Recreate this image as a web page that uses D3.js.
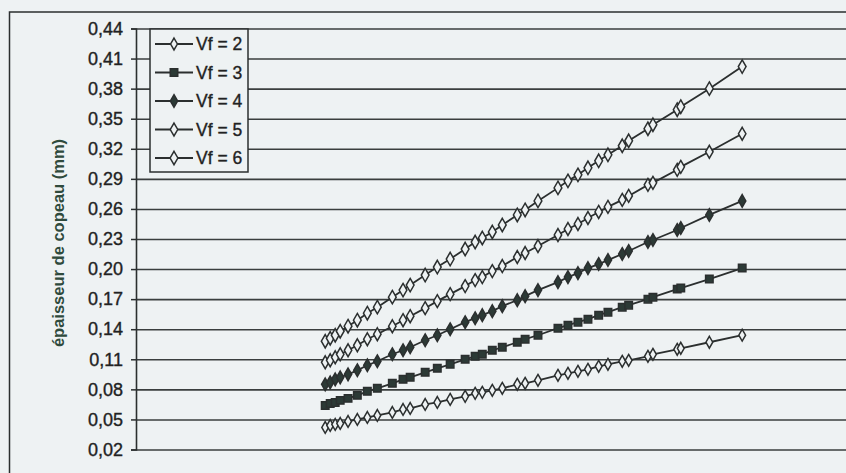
<!DOCTYPE html>
<html><head><meta charset="utf-8">
<script src="https://cdn.jsdelivr.net/npm/d3@7"></script>
<style>
html,body{margin:0;padding:0;background:#eef2f3;}
svg{display:block;font-family:"Liberation Sans",Arial,sans-serif;}
</style></head>
<body><svg id="c" width="846" height="473"></svg>
<script>
// ---- data (x position in arbitrary units; no x labels shown in the reference) ----
const xValues = [26.5,27.2,27.9,28.6,29.7,31.0,32.4,33.8,35.9,37.4,38.4,40.5,42.2,44.0,46.1,47.5,48.5,49.9,51.3,53.4,54.5,56.3,59.1,60.5,61.9,63.3,64.8,66.1,68.1,69.0,71.7,72.4,75.8,76.3,80.3,84.9];
const vf2 = [0.042,0.044,0.045,0.046,0.048,0.050,0.052,0.054,0.057,0.060,0.061,0.065,0.067,0.070,0.073,0.076,0.077,0.079,0.081,0.085,0.086,0.089,0.094,0.096,0.098,0.100,0.103,0.105,0.108,0.109,0.113,0.115,0.120,0.121,0.127,0.134];
const vf3 = [0.064,0.066,0.067,0.069,0.071,0.074,0.078,0.081,0.086,0.090,0.092,0.097,0.101,0.105,0.110,0.113,0.115,0.119,0.122,0.127,0.130,0.134,0.141,0.144,0.147,0.150,0.154,0.157,0.162,0.164,0.170,0.172,0.180,0.181,0.190,0.201];
const vf4 = [0.085,0.087,0.090,0.092,0.095,0.099,0.104,0.108,0.115,0.119,0.122,0.129,0.134,0.140,0.147,0.151,0.154,0.158,0.163,0.169,0.173,0.179,0.187,0.192,0.196,0.201,0.205,0.209,0.215,0.218,0.227,0.229,0.239,0.241,0.254,0.268];
const vf5 = [0.107,0.109,0.112,0.115,0.119,0.124,0.130,0.135,0.143,0.149,0.153,0.161,0.168,0.175,0.183,0.189,0.192,0.198,0.203,0.212,0.216,0.223,0.234,0.240,0.245,0.251,0.257,0.262,0.269,0.273,0.284,0.286,0.299,0.302,0.317,0.335];
const vf6 = [0.128,0.131,0.134,0.138,0.143,0.149,0.156,0.162,0.172,0.179,0.184,0.194,0.202,0.210,0.220,0.227,0.231,0.237,0.244,0.254,0.259,0.268,0.281,0.288,0.294,0.301,0.308,0.314,0.323,0.328,0.340,0.344,0.359,0.362,0.380,0.402];
const seriesNames = ["Vf = 2","Vf = 3","Vf = 4","Vf = 5","Vf = 6"];
const yTicks = [0.02,0.05,0.08,0.11,0.14,0.17,0.20,0.23,0.26,0.29,0.32,0.35,0.38,0.41,0.44];
const yTitle = "épaisseur de copeau (mm)";

const seriesValues = [vf2,vf3,vf4,vf5,vf6];
const markers = [
  {type:d3.symbolDiamond, size:40, fill:"#eef2f3"},
  {type:d3.symbolSquare,  size:56, fill:"#2c3a36"},
  {type:d3.symbolDiamond, size:46, fill:"#2c3a36"},
  {type:d3.symbolDiamond, size:48, fill:"#eef2f3"},
  {type:d3.symbolDiamond, size:52, fill:"#eef2f3"}
];

const svg = d3.select("#c");
const L = 136, R = 850, T = 28.5, B = 449.5;
const x = d3.scaleLinear().domain([0,100]).range([L,R]);
const y = d3.scaleLinear().domain([0.02,0.44]).range([B,T]);
const ink = "#2b2f2f";

// outer frame
svg.append("path").attr("d","M9.5,475 V12 H850").attr("fill","none").attr("stroke",ink).attr("stroke-width",1.5);

// gridlines
const grid = svg.append("g").attr("transform",`translate(${L},0)`)
  .call(d3.axisLeft(y).tickValues(yTicks).tickSize(-(R-L)).tickFormat(""));
grid.select(".domain").remove();
grid.selectAll("line").attr("stroke","#3a3e3e").attr("stroke-width",1.6);

// y axis
const ya = svg.append("g").attr("transform",`translate(${L},0)`)
  .call(d3.axisLeft(y).tickValues(yTicks).tickSize(5).tickPadding(8)
    .tickFormat(d=>d3.format(".2f")(d).replace(".",",")));
ya.select(".domain").attr("stroke",ink).attr("stroke-width",1.6);
ya.selectAll(".tick line").attr("stroke",ink).attr("stroke-width",1.5);
ya.selectAll("text").attr("font-size",18).attr("fill","#222").attr("font-family","'Liberation Sans',Arial,sans-serif")
  .attr("stroke","#222").attr("stroke-width",0.35);

// y title
svg.append("text").attr("transform","translate(64,243) rotate(-90)")
  .attr("text-anchor","middle").attr("font-size",16.5).attr("font-weight","bold")
  .attr("fill","#2f4a3c").text(yTitle);

// series
const line = d3.line().x((d,i)=>x(xValues[i])).y(d=>y(d));
seriesValues.forEach((vals,si)=>{
  const g = svg.append("g");
  g.append("path").datum(vals).attr("d",line).attr("fill","none").attr("stroke",ink).attr("stroke-width",1.8);
  const m = markers[si];
  g.selectAll("path.m").data(vals).join("path").attr("class","m")
    .attr("d",d3.symbol().type(m.type).size(m.size))
    .attr("transform",(d,i)=>`translate(${x(xValues[i])},${y(d)})`)
    .attr("fill",m.fill).attr("stroke",ink).attr("stroke-width",1.5);
});

// legend
const lg = svg.append("g");
lg.append("rect").attr("x",150).attr("y",29).attr("width",98).attr("height",143)
  .attr("fill","#eef2f3").attr("stroke",ink).attr("stroke-width",1.5);
const ly = d3.scalePoint().domain(seriesNames).range([44,158]);
seriesNames.forEach((n,si)=>{
  const yy = ly(n);
  lg.append("line").attr("x1",155).attr("x2",193).attr("y1",yy).attr("y2",yy).attr("stroke",ink).attr("stroke-width",1.8);
  const m = markers[si];
  lg.append("path").attr("d",d3.symbol().type(m.type).size(m.size)).attr("transform",`translate(174,${yy})`)
    .attr("fill",m.fill).attr("stroke",ink).attr("stroke-width",1.5);
  lg.append("text").attr("x",196).attr("y",yy).attr("dy","0.36em").attr("font-size",17.5)
    .attr("fill","#222").attr("stroke","#222").attr("stroke-width",0.35).text(n);
});
</script></body></html>
